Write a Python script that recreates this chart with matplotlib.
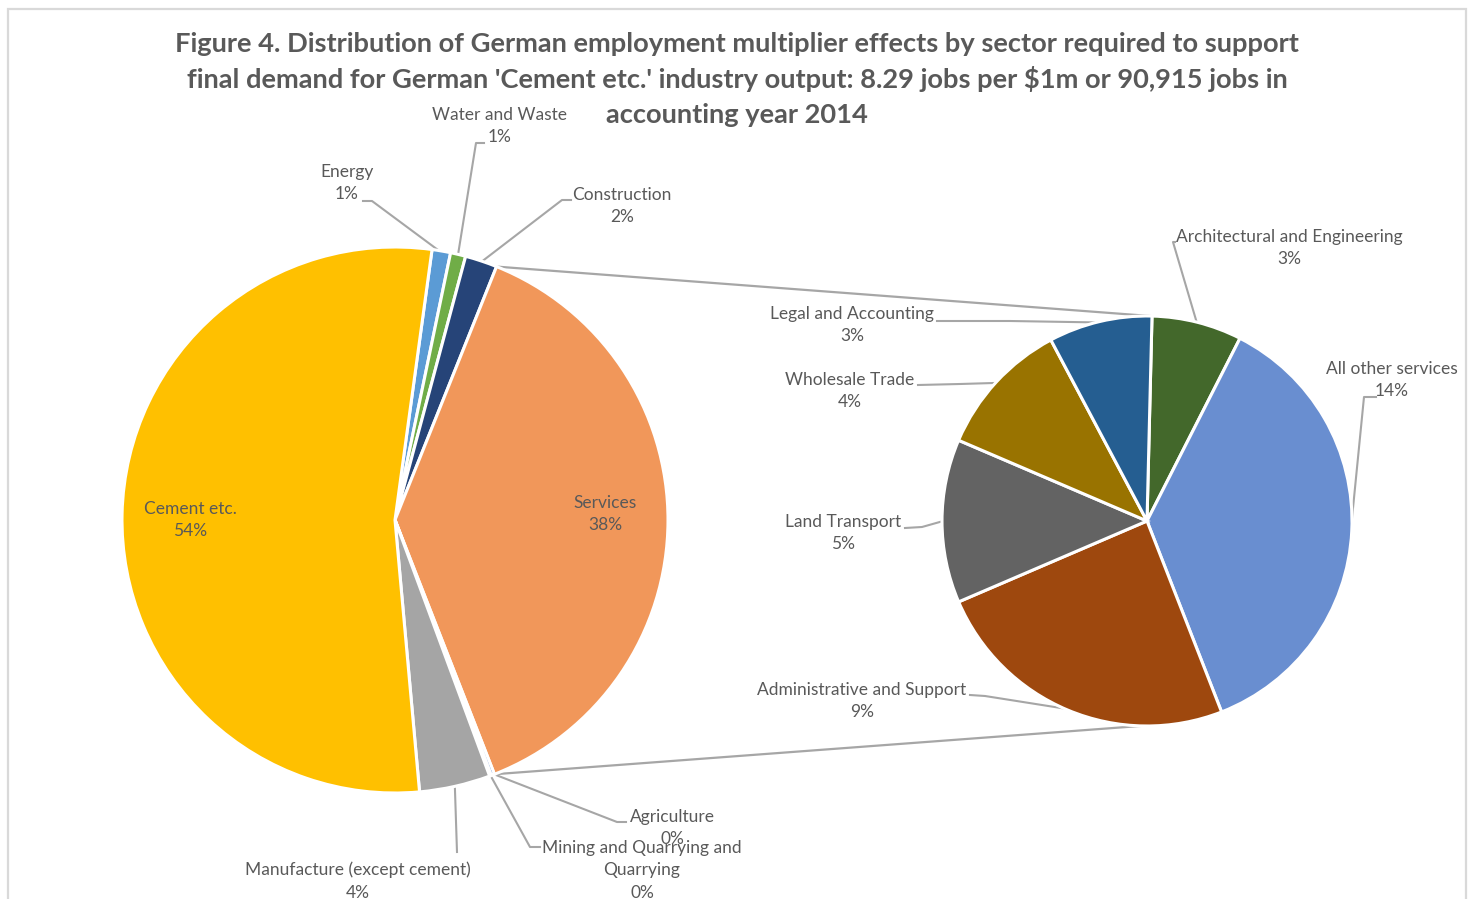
import matplotlib
matplotlib.use("Agg")
import matplotlib.pyplot as plt
import numpy as np
from matplotlib.patches import Rectangle

# ---- data -------------------------------------------------------------
main_sectors = ["Energy", "Water and Waste", "Construction", "Services",
                "Agriculture", "Mining and Quarrying and\nQuarrying",
                "Manufacture (except cement)", "Cement etc."]
main_shares = [1.1, 0.9, 1.9, 38.0, 0.2, 0.1, 4.2, 53.6]
main_colors = ["#5B9BD5", "#70AD47", "#264478", "#F1975A",
               "#4472C4", "#ED7D31", "#A5A5A5", "#FFC000"]

service_sectors = ["Architectural and Engineering", "All other services",
                   "Administrative and Support", "Land Transport",
                   "Wholesale Trade", "Legal and Accounting"]
service_shares = [2.7, 13.9, 9.3, 4.9, 4.1, 3.1]
service_colors = ["#43682B", "#698ED0", "#9E480E", "#636363",
                  "#997300", "#255E91"]

title_lines = [
    "Figure 4. Distribution of German employment multiplier effects by sector required to support",
    "final demand for German 'Cement etc.' industry output: 8.29 jobs per $1m or 90,915 jobs in",
    "accounting year 2014",
]

# ---- canvas in pixel units (y measured downward from top) ---------------
W, H = 1473, 899
fig = plt.figure(figsize=(W / 100, H / 100), dpi=100)
ax = fig.add_axes([0, 0, 1, 1])
ax.set_xlim(0, W)
ax.set_ylim(0, H)
ax.axis("off")


def P(x, y):
    return x, H - y


TEXT = "#595959"
LINE = "#A6A6A6"
FONT = "Lato"

# chart-area frame
ax.add_patch(Rectangle(P(7.5, 940), 1458.5, 931, fill=False,
                       edgecolor="#D9D9D9", linewidth=1.6))

# ---- pies --------------------------------------------------------------
c1, r1 = P(395, 520), 273
c2, r2 = P(1147, 521), 205

total = sum(main_shares)
w1, _ = ax.pie(main_shares, colors=main_colors, center=c1, radius=r1,
               startangle=82.2, counterclock=False, normalize=True,
               wedgeprops=dict(edgecolor="white", linewidth=2.2))
w2, _ = ax.pie(service_shares, colors=service_colors, center=c2, radius=r2,
               startangle=88.6, counterclock=False, normalize=True,
               wedgeprops=dict(edgecolor="white", linewidth=2.2))
ax.set_xlim(0, W)
ax.set_ylim(0, H)
ax.set_aspect("auto")


def edge_point(center, r, ang):
    a = np.deg2rad(ang)
    return center[0] + r * np.cos(a), center[1] + r * np.sin(a)


def mid_point(wedge, center, r, f=1.0):
    return edge_point(center, r * f, 0.5 * (wedge.theta1 + wedge.theta2))


# connector lines from the Services slice to the secondary pie
svc = w1[main_sectors.index("Services")]
top_start = edge_point(c1, r1, svc.theta2)
bot_start = edge_point(c1, r1, svc.theta1)
ax.plot([top_start[0], c2[0] + 3], [top_start[1], c2[1] + r2],
        color=LINE, lw=1.6, zorder=0.5)
ax.plot([bot_start[0], c2[0] - 7], [bot_start[1], c2[1] - r2],
        color=LINE, lw=1.6, zorder=0.5)


def pct(v):
    return f"{v / total * 100:.0f}%"


def label(text, x, y, size=12.5):
    ax.text(*P(x, y), text, ha="center", va="center", color=TEXT,
            fontsize=size, family=FONT, linespacing=1.5)


# inside labels
label(f"Cement etc.\n{pct(main_shares[7])}", 190, 520)
label(f"Services\n{pct(main_shares[3])}", 605, 514)

# outside labels with leader lines: (index, text centre, hook start, elbow)
main_out = [
    (0, (347, 183), (363, 201), (372, 201)),
    (1, (500, 126), (484, 143), (476, 143)),
    (2, (622, 206), (571, 200), (562, 200)),
    (4, (672, 828), (626, 822), (617, 822)),
    (5, (642, 870), (540, 847), (530, 847)),
    (6, (358, 881), (457, 852), (457, 852)),
]
for i, (tx, ty), s, e in main_out:
    label(f"{main_sectors[i]}\n{pct(main_shares[i])}", tx, ty)
    end = mid_point(w1[i], c1, r1, 0.995)
    xs = [P(*s)[0], P(*e)[0], end[0]]
    ys = [P(*s)[1], P(*e)[1], end[1]]
    ax.plot(xs, ys, color=LINE, lw=1.5, zorder=0.5)

svc_out = [
    (0, (1289, 248), (1175, 242), (1173, 242)),
    (1, (1392, 380), (1376, 397), (1364, 397)),
    (2, (862, 701), (970, 695), (985, 696)),
    (3, (843, 533), (905, 528), (922, 527)),
    (4, (850, 391), (918, 385), (960, 384)),
    (5, (852, 325), (937, 321), (1010, 321)),
]
for i, (tx, ty), s, e in svc_out:
    label(f"{service_sectors[i]}\n{pct(service_shares[i])}", tx, ty)
    end = mid_point(w2[i], c2, r2, 0.995)
    xs = [P(*s)[0], P(*e)[0], end[0]]
    ys = [P(*s)[1], P(*e)[1], end[1]]
    ax.plot(xs, ys, color=LINE, lw=1.5, zorder=0.5)

# ---- title -------------------------------------------------------------
for line, y in zip(title_lines, [44, 79, 115]):
    ax.text(*P(737, y), line, ha="center", va="center", color=TEXT,
            fontsize=19.6, fontweight="bold", family=FONT)

fig.savefig("out.png", dpi=100)
